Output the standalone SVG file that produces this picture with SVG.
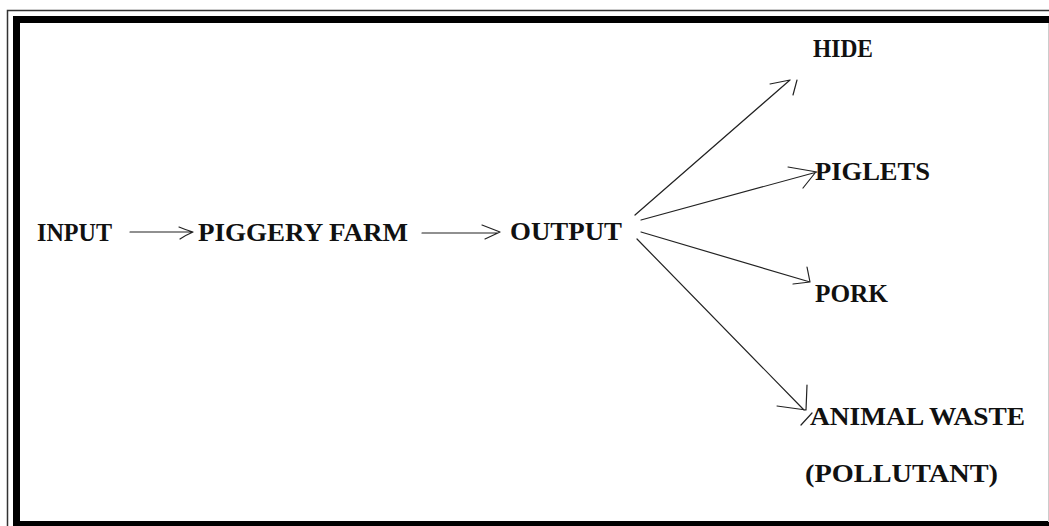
<svg xmlns="http://www.w3.org/2000/svg" width="1049" height="526" viewBox="0 0 1049 526">
<style>
.lbl{font-family:"Liberation Serif","DejaVu Serif",serif;font-weight:bold;font-size:25px;fill:#111;}
.con{stroke:#222;stroke-width:1.2;fill:none;stroke-linecap:round;stroke-linejoin:round;}
</style>
<rect width="1049" height="526" fill="#fff"/>
<g id="frame">
<path d="M7.5,526 V10.5 H1049" fill="none" stroke="#333" stroke-width="1.5"/>
<path d="M16.5,526 V19.5 H1049" fill="none" stroke="#000" stroke-width="7"/>
<path d="M13,525 H1049" stroke="#000" stroke-width="8"/>
<path d="M1048.5,23 V522" stroke="#ccc" stroke-width="1"/>
</g>
<g id="connectors">
<path class="con" d="M130,232 H192 M179,227 Q186,230 193,232 Q186,235 180,239"/>
<path class="con" d="M422,233 H497 M482,225 L500,232 L485,239"/>
<path class="con" d="M635,215 L790,80 M770,84 L790,80 M793,95 L797,80"/>
<path class="con" d="M641,220 L817,172 M788,167 L817,172 M803,188 L815,173"/>
<path class="con" d="M641,232 L810,282 M807,267 L810,282 M793,284 L810,282"/>
<path class="con" d="M637,239 L804,410 M807,385 L806,410 M777,406 L806,410 M801,425 L812,413"/>
</g>
<g id="input"><text class="lbl" x="37" y="241" textLength="75" lengthAdjust="spacingAndGlyphs">INPUT</text></g>
<g id="piggery-farm"><text class="lbl" x="198" y="241" textLength="210" lengthAdjust="spacingAndGlyphs">PIGGERY FARM</text></g>
<g id="output"><text class="lbl" x="510" y="240" textLength="112" lengthAdjust="spacingAndGlyphs">OUTPUT</text></g>
<g id="hide"><text class="lbl" x="813" y="57" textLength="60" lengthAdjust="spacingAndGlyphs">HIDE</text></g>
<g id="piglets"><text class="lbl" x="815" y="180" textLength="115" lengthAdjust="spacingAndGlyphs">PIGLETS</text></g>
<g id="pork"><text class="lbl" x="815" y="302" textLength="73" lengthAdjust="spacingAndGlyphs">PORK</text></g>
<g id="animal-waste">
<text class="lbl" x="810" y="425" textLength="215" lengthAdjust="spacingAndGlyphs">ANIMAL WASTE</text>
<text class="lbl" x="805" y="482" textLength="193" lengthAdjust="spacingAndGlyphs">(POLLUTANT)</text>
</g>
</svg>
